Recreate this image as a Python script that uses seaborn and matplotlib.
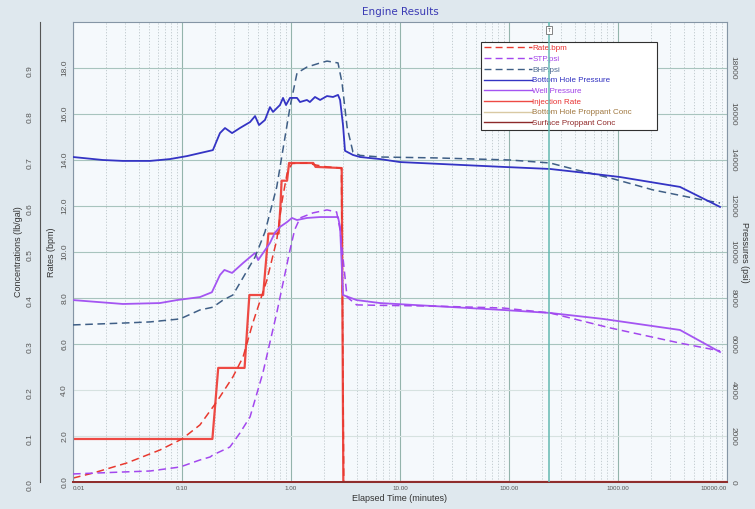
import matplotlib
matplotlib.use("Agg")
import matplotlib.pyplot as plt
import seaborn as sns
import pandas as pd
from matplotlib.lines import Line2D
from matplotlib.ticker import FixedLocator, LogLocator, NullFormatter

# ---------------- data ----------------
# Bottom Hole Pressure (psi, solid)
bhp_t = [0.01, 0.0188, 0.0287, 0.0509, 0.0775, 0.111, 0.146, 0.192, 0.223, 0.248, 0.288, 0.340,
         0.421, 0.468, 0.509, 0.577, 0.641, 0.684, 0.792, 0.845, 0.900, 0.979, 1.135, 1.21,
         1.40, 1.49, 1.66, 1.85, 2.14, 2.43, 2.70, 2.82, 3.00, 3.13, 3.70, 4.30, 6.56, 10,
         88, 238, 520, 1043, 3704, 8630]
bhp_p = [14130, 14000, 13960, 13960, 14040, 14170, 14300, 14430, 15170, 15390, 15170, 15390,
         15650, 15910, 15520, 15740, 16300, 16090, 16390, 16700, 16390, 16700, 16700, 16520,
         16610, 16520, 16740, 16610, 16780, 16740, 16830, 16610, 15520, 14400, 14220, 14130, 14040, 13910,
         13700, 13610, 13430, 13260, 12830, 11960]

# BHP.psi (dashed)
bhpd_t = [0.01, 0.0287, 0.0509, 0.0959, 0.146, 0.192, 0.238, 0.293, 0.468, 0.577, 0.74, 0.979,
          1.135, 1.40, 1.85, 2.14, 2.70, 2.94, 3.27, 3.70, 4.30, 6.56, 21.7, 102, 238, 421,
          845, 2094, 6025, 8630]
bhpd_p = [6830, 6910, 6960, 7090, 7480, 7600, 7910, 8130, 9780, 10870, 12830, 16300,
          17780, 18040, 18220, 18300, 18220, 17350, 15430, 14350, 14200, 14130, 14090, 14000, 13870, 13565,
          13220, 12700, 12260, 12130]

# STP.psi (dashed)
stp_t = [0.01, 0.0287, 0.0509, 0.0959, 0.146, 0.181, 0.192, 0.275, 0.293, 0.340, 0.421, 0.552,
         0.74, 0.979, 1.08, 1.21, 1.59, 2.14, 2.62, 2.82, 3.27, 4.0, 6.56, 20, 88, 238, 845,
         3704, 8630]
stp_p = [350, 435, 478, 652, 957, 1087, 1174, 1522, 1700, 2130, 2830, 4740,
         7350, 10090, 10960, 11480, 11700, 11830, 11740, 10960, 8040, 7700, 7680, 7650, 7565, 7350, 6700,
         6040, 5700]

# Well Pressure (psi, solid)
well_t = [0.01, 0.0287, 0.0627, 0.090, 0.146, 0.188, 0.223, 0.245, 0.288, 0.363, 0.468, 0.50,
          0.641, 0.71, 0.792, 0.919, 1.02, 1.135, 1.40, 1.85, 2.70, 2.82, 3.0, 4.0, 6.56, 88,
          238, 730, 3704, 8630]
well_p = [7910, 7740, 7780, 7910, 8040, 8250, 9000, 9220, 9090, 9520, 9960, 9650,
          10390, 10830, 11090, 11300, 11480, 11390, 11480, 11520, 11520, 11090, 8130, 7910, 7780, 7480,
          7350, 7090, 6610, 5650]

# Rate.bpm (dashed)
rate_t = [0.01, 0.0153, 0.0313, 0.0627, 0.10, 0.146, 0.209, 0.293, 0.363, 0.446, 0.601, 0.74,
          0.827, 0.919, 1.02, 1.40, 1.70, 2.14, 2.90, 3.05, 10000]
rate_v = [0.17, 0.39, 0.83, 1.39, 1.87, 2.48, 3.50, 4.57, 5.43, 6.91, 8.78, 10.52,
          12.2, 13.4, 13.85, 13.87, 13.78, 13.70, 13.65, 0.0, 0.0]

# Injection Rate (bpm, solid steps)
inj_t = [0.01, 0.19, 0.215, 0.375, 0.415, 0.555, 0.62, 0.77, 0.80, 0.82, 0.92, 0.96, 1.6,
         1.68, 2.92, 3.02, 10000]
inj_v = [1.87, 1.87, 4.96, 4.96, 8.13, 8.13, 10.8, 10.8, 12.0, 13.1, 13.1, 13.87, 13.87,
         13.7, 13.65, 0.0, 0.0]

# Proppant concentrations (lb/gal)
conc_t = [0.01, 10000]
bh_conc = [0.0, 0.0]
surf_conc = [0.0, 0.0]

x_ticks = [0.01, 0.1, 1, 10, 100, 1000, 10000]
x_labels = ["0.01", "0.10", "1.00", "10.00", "100.00", "1000.00", "10000.00"]
rate_ticks = [0, 2, 4, 6, 8, 10, 12, 14, 16, 18]
conc_ticks = [0.0, 0.1, 0.2, 0.3, 0.4, 0.5, 0.6, 0.7, 0.8, 0.9]
press_ticks = [0, 2000, 4000, 6000, 8000, 10000, 12000, 14000, 16000, 18000]
marker_time = 233

legend_labels = ["Rate.bpm", "STP.psi", "BHP.psi", "Bottom Hole Pressure", "Well Pressure",
                 "Injection Rate", "Bottom Hole Proppant Conc", "Surface Proppant Conc"]

# ---------------- styling ----------------
plt.rcParams['font.family'] = ['Liberation Sans', 'DejaVu Sans']
TICKC = "#555555"
DASH = (0, (5, 3))

c_rate = "#e8392f"
c_stp = "#a347ee"
c_bhpd = "#3f5f86"
c_bhp = "#3434c4"
c_well = "#a455f2"
c_inj = "#ee4a44"
c_bhc = "#d9c9a3"
c_sc = "#8e2a2a"

fig = plt.figure(figsize=(7.55, 5.09), dpi=100, facecolor="#dfe8ee")
ax = fig.add_axes([73 / 755, 27 / 509, 654 / 755, 460 / 509])
ax.set_facecolor("#f5f9fc")
ax_p = ax.twinx()
ax_c = ax.twinx()
ax.set_xscale("log")


def draw(axis, t, v, color, lw, ls="-", z=2, clip=True):
    df = pd.DataFrame({"t": t, "v": v})
    sns.lineplot(data=df, x="t", y="v", ax=axis, estimator=None, sort=False,
                 color=color, linewidth=lw, linestyle=ls, legend=False,
                 zorder=z, clip_on=clip)


# concentrations
draw(ax_c, conc_t, bh_conc, c_bhc, 1.4, clip=False)
draw(ax_c, conc_t, surf_conc, c_sc, 1.4, clip=False)
# rates
draw(ax, inj_t, inj_v, c_inj, 1.6)
draw(ax, rate_t, rate_v, c_rate, 1.1, DASH)
# pressures
draw(ax_p, well_t, well_p, c_well, 1.3)
draw(ax_p, stp_t, stp_p, c_stp, 1.1, DASH)
draw(ax_p, bhpd_t, bhpd_p, c_bhpd, 1.1, DASH)
draw(ax_p, bhp_t, bhp_p, c_bhp, 1.3)

ax.set_xlim(0.01, 10000)
ax.set_ylim(0, 20)
ax_p.set_ylim(0, 20000)
ax_c.set_ylim(0, 1.0)

# grid
ax.xaxis.set_major_locator(FixedLocator(x_ticks))
ax.xaxis.set_minor_locator(LogLocator(base=10, subs=range(2, 10), numticks=30))
ax.xaxis.set_minor_formatter(NullFormatter())
ax.set_xticklabels(x_labels)
ax.grid(True, which="major", axis="x", color="#94b4ac", lw=0.8)
ax.grid(True, which="minor", axis="x", color="#bcc6ca", lw=0.6, linestyle=(0, (1.5, 2)))
ax.set_yticks(rate_ticks)
ax.grid(True, which="major", axis="y", color="#a8c4be", lw=0.8)
ax.set_axisbelow(True)
for gl, v in zip(ax.get_ygridlines(), rate_ticks):
    if v in (2, 4):
        gl.set_color("#d6e2e0")

ax.tick_params(axis="x", which="both", length=0, labelsize=4.5, labelcolor=TICKC, pad=3)
xl = ax.get_xticklabels()
xl[0].set_ha("left")
xl[-1].set_ha("right")
ax.set_xlabel("Elapsed Time (minutes)", fontsize=6.5, color="#333333", labelpad=2)

# rates axis
ax.set_yticklabels([f"{v:.1f}" for v in rate_ticks])
ax.tick_params(axis="y", length=0, labelsize=6, labelcolor=TICKC, pad=3.5,
               labelrotation=90)
for lab in ax.get_yticklabels():
    lab.set_va("center")
ax.set_ylabel("Rates (bpm)", fontsize=6.5, color="#333333", labelpad=4)

# concentration axis
ax_c.yaxis.set_ticks_position("left")
ax_c.yaxis.set_label_position("left")
ax_c.set_yticks(conc_ticks)
ax_c.set_yticklabels([f"{v:.1f}" for v in conc_ticks])
ax_c.tick_params(axis="y", which="both", left=True, right=False, labelleft=True,
                 labelright=False, length=0, labelsize=6, labelcolor=TICKC, pad=4.5,
                 labelrotation=90)
for tk in ax_c.yaxis.get_major_ticks():
    tk.label1.set_rotation(90)
    tk.label1.set_va("center")
ax_c.set_ylabel("Concentrations (lb/gal)", fontsize=6.5, color="#333333", labelpad=3)
for s in ["top", "right", "bottom"]:
    ax_c.spines[s].set_visible(False)
ax_c.spines["left"].set_position(("outward", 23.8))
ax_c.spines["left"].set_color("#555555")
ax_c.spines["left"].set_linewidth(0.8)

# pressure axis
ax_p.set_yticks(press_ticks)
ax_p.set_yticklabels([str(v) for v in press_ticks])
ax_p.tick_params(axis="y", length=0, labelsize=6, labelcolor=TICKC, pad=2,
                 labelrotation=270)
for lab in ax_p.get_yticklabels():
    lab.set_va("center")
ax_p.set_ylabel("Pressures (psi)", fontsize=6.5, color="#333333", rotation=270,
                labelpad=9)
for s in ax_p.spines.values():
    s.set_visible(False)

for s in ax.spines.values():
    s.set_color("#8595a5")
    s.set_linewidth(0.8)

# marker line
ax_c.axvline(marker_time, color="#63b9b1", lw=1.1, zorder=6)
fig.text(549 / 755, 1 - 30 / 509, "T", fontsize=3.5, ha="center", va="center", color="#444444",
         bbox=dict(boxstyle="square,pad=0.25", fc="white", ec="#707070", lw=0.6))

# legend
handles = [
    Line2D([], [], color=c_rate, lw=1.0, linestyle=DASH),
    Line2D([], [], color=c_stp, lw=1.0, linestyle=DASH),
    Line2D([], [], color=c_bhpd, lw=1.0, linestyle=DASH),
    Line2D([], [], color=c_bhp, lw=1.0),
    Line2D([], [], color=c_well, lw=1.0),
    Line2D([], [], color=c_inj, lw=1.0),
    Line2D([], [], color=c_bhc, lw=1.0),
    Line2D([], [], color=c_sc, lw=1.0),
]
text_colors = ["#e83030", "#a040e8", "#4a6890", "#3030c0", "#a040e8", "#e83030", "#a07840", "#902828"]
leg = ax_c.legend(handles, legend_labels, loc="upper left",
                  bbox_to_anchor=(0.624, 0.765, 0.269, 0.192), mode="expand",
                  fontsize=5.8, frameon=True, fancybox=False, edgecolor="#303030",
                  facecolor="white", framealpha=1, handlelength=6.0, handletextpad=0.0,
                  borderpad=0.35, labelspacing=0.38, borderaxespad=0)
leg.get_frame().set_linewidth(0.8)
leg.set_zorder(5)
for t, c in zip(leg.get_texts(), text_colors):
    t.set_color(c)

fig.text(400 / 755, 1 - 12 / 509, "Engine Results", ha="center", va="center",
         color="#3a3ab4", fontsize=7.5, family="DejaVu Sans")

fig.savefig("out.png", dpi=100, facecolor=fig.get_facecolor())
